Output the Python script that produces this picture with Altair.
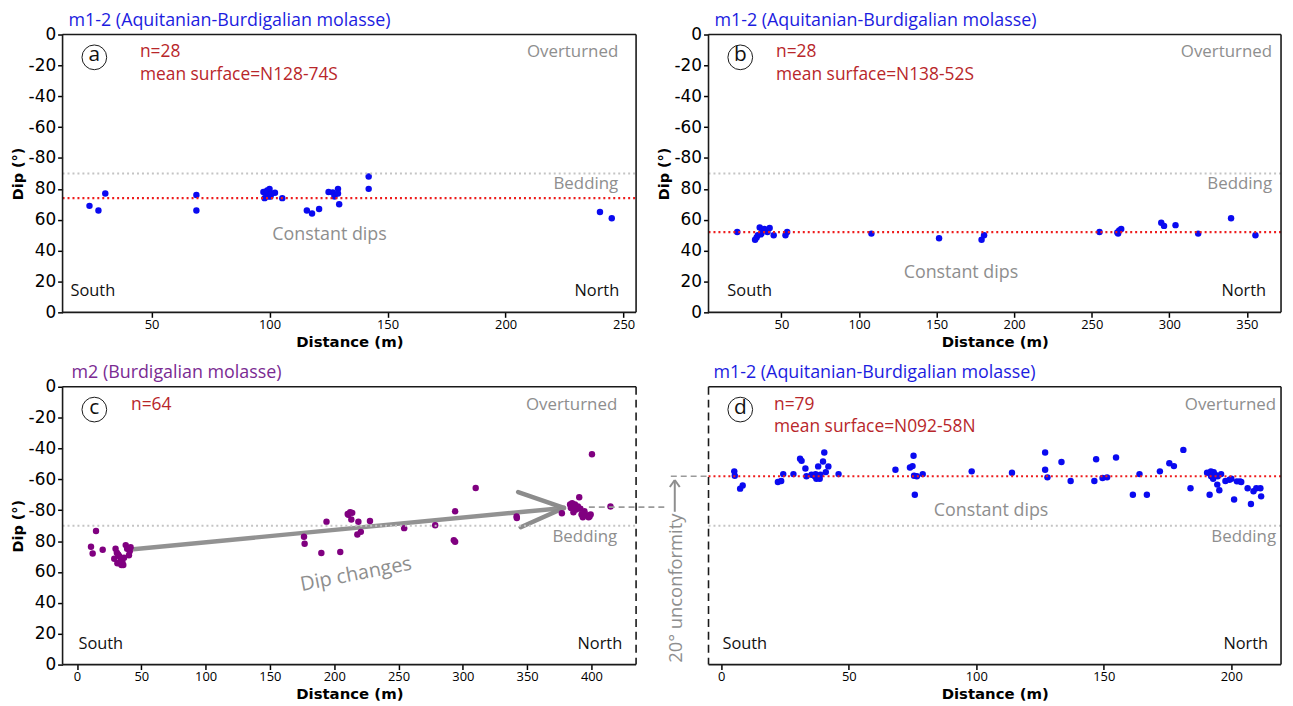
import altair as alt
import pandas as pd

# ---------------- data (distance in m, dip in folded scale: 0..90 normal, 90..180 overturned) -------------
a_dist = [23.7, 27.5, 30.4, 69, 69, 97.4, 97.9, 98.6, 99, 99.6, 100, 100.4, 101, 102.3, 105.4,
          115.8, 118, 121, 125, 126.8, 127.5, 129, 129, 129.5, 142, 142, 240, 245]
a_dip = [69, 66, 77, 76, 66, 78, 74, 76.6, 79, 75, 80, 75, 77, 77.5, 74,
         66, 64, 67, 78, 77.7, 75, 80, 77, 70, 88, 80, 65, 61]

b_dist = [21.5, 33, 34, 34.8, 36, 37, 37.7, 39, 41, 42.4, 45, 52.6, 53.7, 108, 151.6, 179, 180.6,
          255, 266.5, 267, 267.7, 269, 294.8, 296.6, 304, 318.6, 339.8, 355.5]
b_dip = [52, 47, 48.5, 50, 55, 50.6, 52.7, 54, 52, 54.6, 50, 50, 52, 51, 48, 47, 50,
         52, 51.7, 51, 53, 54, 58, 56, 56.5, 51, 61, 50]

c_dist = [10.9, 12.2, 14.8, 20, 29, 30, 31, 31.4, 32, 32.7, 33.4, 34, 34, 34.6, 35.3, 36, 36.6, 37.9,
          39, 40.4, 41, 41.7,
          176.5, 177, 190, 194, 204.7, 210.5, 211, 212.4, 213.3, 214, 218, 218.8, 220.7, 227.8,
          254.4, 278.5, 293, 294, 294, 310, 341.8, 342,
          377, 383.4, 384, 385, 386, 387.2, 388, 389.5, 390.5, 391.4, 392.3, 393.3, 394, 394.6,
          396.2, 397.8, 398.5, 399.4, 400.4, 414.8]
c_dip = [76.3, 72, 86.5, 74.4, 68.6, 75, 72.5, 65.6, 71.4, 70.3, 65.6, 69.2, 67, 64.5, 66.5, 64.5, 69.2, 77.4,
         75, 70.8, 73.5, 76,
         82.8, 78.3, 72.3, 92.5, 73, 97.6, 97, 98.7, 94, 98.3, 84.3, 92.5, 86, 93,
         88.4, 90.3, 80.6, 79.6, 99.4, 114.4, 96, 95,
         98, 103.7, 101.5, 104.5, 98.7, 103.7, 100.4, 102.4, 108.4, 101, 97.2, 95.5, 97.2, 99.4,
         96.8, 95.5, 96, 97.2, 136.3, 102.4]

d_dist = [5.1, 5.3, 7.4, 8.4, 22.2, 23.5, 24.3, 28.3, 30.9, 31.5, 33, 33.4, 35.4, 36.7, 37, 37.3, 37.6,
          38, 38.3, 38.6, 38.9, 39.9, 40.4, 41, 42, 46,
          68.3, 74, 75, 75.4, 75.6, 75.9, 76.7, 79,
          98.2, 114, 127, 127, 127.9, 133.4, 137, 146.3, 147, 149.5, 151.3, 154.8,
          161.4, 164, 166.9, 172, 175.7, 177.5, 181.2, 184,
          190.5, 191.5, 192, 192.1, 192.6, 192.9, 193.1, 193.7, 194.5, 194.7, 195.3, 196, 197.7,
          199.3, 200, 201.1, 202.2, 203.4, 203.9, 206.4, 207.7, 208.7, 209.8, 211.4, 211.7]
d_dip = [125.2, 122.4, 114, 116, 118.3, 119, 123.4, 123.4, 133.3, 132, 127, 122, 123, 122, 123.4, 120.4, 121.3,
         128.4, 122, 120.4, 123, 131.6, 137.4, 124.7, 128.4, 123.4,
         126.2, 127.7, 128.6, 135.3, 122.4, 110, 122, 123.4,
         125.2, 124.3, 137.4, 126.2, 121.3, 131.2, 119, 119, 133, 120.9, 121.3, 134.2,
         110, 123.4, 110, 125.2, 130.5, 128.6, 139.1, 114.2,
         124.3, 110, 125.2, 122, 123.4, 120.4, 124.7, 123, 116.6, 122, 113, 123.4, 119,
         119.8, 120.4, 107, 118.7, 118.7, 118.3, 114.2, 104, 112.3, 114.2, 114.2, 109]

mean_a, mean_b, mean_d = 74, 52, 122
bedding = 90
y_ticks = [0, 20, 40, 60, 80, 100, 120, 140, 160, 180]

# "Dip changes" arrow in panel c (shaft end points and head arms)
arrow_dist = [41.7, 378.6]
arrow_dip = [74.6, 101.5]
head_dist = [343, 345]
head_dip = [111.8, 89]

# ---------------- style ----------------
H = 280
BLUE = "#0a0af0"
PURPLE = "#800080"
TITLE_BLUE = "#1c1ce0"
TITLE_PURPLE = "#7a2a92"
RED_TXT = "#b8262a"
GRAY_TXT = "#8e8e8e"
FONT = "Open Sans"


def ypix(v):
    return H * (1 - v / 180.0)


def xpix(v, dom, W):
    return (v - dom[0]) / (dom[1] - dom[0]) * W


def one():
    return pd.DataFrame({"k": [0]})


def txt(text, x, y, color, size, align="left", angle=0, font=FONT):
    return alt.Chart(one()).mark_text(
        text=text, align=align, baseline="middle", color=color, fontSize=size,
        font=font, angle=angle
    ).encode(x=alt.value(x), y=alt.value(y))


def rule(x, y, x2=None, y2=None, dash=None, color="#1a1a1a", width=1.6):
    kw = dict(color=color, strokeWidth=width)
    if dash:
        kw["strokeDash"] = dash
    enc = dict(x=alt.value(x), y=alt.value(y))
    if x2 is not None:
        enc["x2"] = alt.value(x2)
    if y2 is not None:
        enc["y2"] = alt.value(y2)
    return alt.Chart(one()).mark_rule(**kw).encode(**enc)


def make_axes(xticks, ylabels):
    if ylabels:
        yax = alt.Axis(values=y_ticks, labelExpr="datum.value <= 90 ? datum.value : datum.value - 180",
                       title="Dip (°)", labelFont="DejaVu Sans", labelFontSize=17, labelPadding=2,
                       labelOverlap=False, labelBound=False, labelFlush=False,
                       titleFont="DejaVu Sans", titleFontSize=14.5, titleFontWeight="bold",
                       titlePadding=3, ticks=True, tickSize=5, tickWidth=1.5, tickColor="black",
                       labelColor="black", titleColor="black")
    else:
        yax = None
    xax = alt.Axis(values=xticks, title="Distance (m)", labelFont=FONT, labelFontSize=13,
                   labelPadding=1, labelOverlap=False, labelFlush=False,
                   titleFont="DejaVu Sans", titleFontSize=15, titleFontWeight="bold",
                   titlePadding=3, tickSize=5, tickWidth=1.5, tickColor="black",
                   labelColor="black", titleColor="black")
    return xax, yax


def panel(dist, dip, color, xdom, xticks, W, title, tcolor, letter, lines, lines_x, mean=None,
          left_dash=False, right_dash=False, ylabels=True, const=None, const_pos=None,
          south_x=8, north_x=17, over_x=18, extra_under=None, title_dx=6):
    df = pd.DataFrame({"dist": dist, "dip": dip})
    xax, yax = make_axes(xticks, ylabels)
    xs = alt.Scale(domain=xdom, nice=False, zero=False)
    ys = alt.Scale(domain=[0, 180], nice=False, zero=False)
    pts = alt.Chart(df).mark_circle(size=42, opacity=1, color=color).encode(
        x=alt.X("dist:Q", scale=xs, axis=xax),
        y=alt.Y("dip:Q", scale=ys, axis=yax),
    )
    layers = []
    if extra_under is not None:
        layers += extra_under(xs, ys, xax, yax)
    layers.append(pts)
    layers.append(rule(0, ypix(bedding), x2=W, dash=[2, 3], color="#c4c4c4", width=2))
    if mean is not None:
        layers.append(rule(0, ypix(mean), x2=W, dash=[2, 3], color="#ee1c1c", width=2.2))
    # border
    layers.append(rule(0, 0, x2=W))
    layers.append(rule(0, H, x2=W))
    layers.append(rule(0, 0, y2=H, dash=[8, 5] if left_dash else None))
    layers.append(rule(W, 0, y2=H, dash=[8, 5] if right_dash else None))
    # panel title (placed as text above the plot area)
    layers.append(txt(title, title_dx, -14, tcolor, 18))
    # circled letter
    layers.append(alt.Chart(one()).mark_point(shape="circle", size=620, filled=False, color="#1a1a1a",
                                              strokeWidth=1, opacity=1)
                  .encode(x=alt.value(32), y=alt.value(23)))
    layers.append(alt.Chart(one()).mark_text(text=letter, align="center", baseline="middle",
                                             color="#111111", fontSize=21, font=FONT).encode(
        x=alt.value(32), y=alt.value(21)))
    for i, s in enumerate(lines):
        layers.append(txt(s, lines_x, 18 + 23 * i, RED_TXT, 17.5))
    layers.append(txt("Overturned", W - over_x, 18, GRAY_TXT, 17, align="right"))
    layers.append(txt("Bedding", W - over_x, 151, GRAY_TXT, 17, align="right"))
    layers.append(txt("South", south_x, 259, "#111111", 16.5))
    layers.append(txt("North", W - north_x, 259, "#111111", 16.5, align="right"))
    if const is not None:
        ang = const_pos[2] if len(const_pos) > 2 else 0
        size = const_pos[3] if len(const_pos) > 3 else 18
        layers.append(txt(const, xpix(const_pos[0], xdom, W), ypix(const_pos[1]), GRAY_TXT, size,
                          align="center", angle=ang))
    props = dict(width=W, height=H)
    return layers, props


def c_arrow(xs, ys, xax, yax):
    arrow_df = pd.DataFrame({"dist": arrow_dist, "dip": arrow_dip})
    head_df = pd.DataFrame({"dist": head_dist, "dip": head_dip,
                            "dist2": [arrow_dist[1]] * 2, "dip2": [arrow_dip[1]] * 2})
    shaft = alt.Chart(arrow_df).mark_line(color="#8c8c8c", strokeWidth=4.5, opacity=0.95).encode(
        x=alt.X("dist:Q", scale=xs, axis=xax), y=alt.Y("dip:Q", scale=ys, axis=yax))
    head = alt.Chart(head_df).mark_rule(color="#8c8c8c", strokeWidth=4.5, strokeCap="round").encode(
        x=alt.X("dist:Q", scale=xs, axis=xax), y=alt.Y("dip:Q", scale=ys, axis=yax),
        x2="dist2:Q", y2="dip2:Q")
    return [shaft, head]


A_DOM, B_DOM, C_DOM, D_DOM = [12.3, 255.3], [3, 372], [-11.2, 434.7], [-5, 219.5]
WA, WB, WC, WD = 578, 577, 578, 577

la, pa = panel(a_dist, a_dip, BLUE, A_DOM, [50, 100, 150, 200, 250], WA,
               "m1-2 (Aquitanian-Burdigalian molasse)", TITLE_BLUE, "a",
               ["n=28", "mean surface=N128-74S"], 78, mean=mean_a, const="Constant dips",
               const_pos=[125.4, 49.8], south_x=8, north_x=17, over_x=18)
chart_a = alt.layer(*la).properties(**pa)

lb, pb = panel(b_dist, b_dip, BLUE, B_DOM, [50, 100, 150, 200, 250, 300, 350], WB,
               "m1-2 (Aquitanian-Burdigalian molasse)", TITLE_BLUE, "b",
               ["n=28", "mean surface=N138-52S"], 68, mean=mean_b, const="Constant dips",
               const_pos=[165.7, 25.7], south_x=19, north_x=15, over_x=9)
chart_b = alt.layer(*lb).properties(**pb)

lc, pc = panel(c_dist, c_dip, PURPLE, C_DOM, [0, 50, 100, 150, 200, 250, 300, 350, 400], WC,
               "m2 (Burdigalian molasse)", TITLE_PURPLE, "c",
               ["n=64"], 69, mean=None, right_dash=True, const="Dip changes",
               const_pos=[217, 58.5, 349, 20], south_x=16, north_x=14, over_x=19, extra_under=c_arrow,
               title_dx=9)
lc.append(rule(xpix(398, C_DOM, WC), ypix(102), x2=WC + 31, dash=[6, 4], color="#9a9a9a", width=1.6))
chart_c = alt.layer(*lc).properties(**pc)

ld, pdd = panel(d_dist, d_dip, BLUE, D_DOM, [0, 50, 100, 150, 200], WD,
                "m1-2 (Aquitanian-Burdigalian molasse)", TITLE_BLUE, "d",
                ["n=79", "mean surface=N092-58N"], 66, mean=mean_d, left_dash=True, ylabels=False,
                const="Constant dips", const_pos=[105.8, 99.8], south_x=14, north_x=13, over_x=5,
                title_dx=5)
# 20° unconformity annotation in the gap left of panel d
ld.append(rule(-38, ypix(mean_d), x2=0, dash=[6, 4], color="#9a9a9a", width=1.6))
ld.append(rule(-34, 94, y2=126, color="#8e8e8e", width=2))
ld.append(rule(-34, 94, x2=-39, y2=101, color="#8e8e8e", width=2))
ld.append(rule(-34, 94, x2=-29, y2=101, color="#8e8e8e", width=2))
ld.append(txt("20° unconformity", -33, 203, GRAY_TXT, 18.5, align="center", angle=270))
chart_d = alt.layer(*ld).properties(**pdd)

chart = alt.concat(chart_a, chart_b, chart_c, chart_d, columns=2,
                   spacing={"row": 75, "column": 73}, bounds="flush").properties(
    padding={"left": 2, "top": 1, "right": 2, "bottom": 0}
).configure_view(stroke=None).configure_axis(grid=False, domain=False)

chart.save("out.html", embed_options={"renderer": "svg", "actions": False})
